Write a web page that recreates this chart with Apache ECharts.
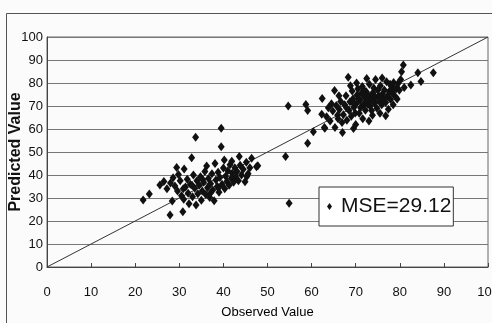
<!DOCTYPE html>
<html>
<head>
<meta charset="utf-8">
<script src="https://cdn.jsdelivr.net/npm/echarts@6/dist/echarts.min.js"></script>
<style>
html,body{margin:0;padding:0;background:#fbfbfb;}
#chart{width:492px;height:323px;}
</style>
</head>
<body>
<div id="chart"></div>
<script>
// Observed vs predicted values
const clusterLow = [
  [21.8,29.1],[23.2,31.7],[25.6,35.7],[26.5,37.2],[27.2,34.0],[27.9,22.6],[28.4,28.7],[28.0,36.5],
  [28.6,38.8],[29.4,43.3],[29.0,35.2],[29.6,33.0],[29.8,40.2],[30.2,37.5],[30.5,31.0],[30.8,24.0],
  [31.1,42.6],[31.0,29.5],[31.4,34.8],[31.8,38.2],[32.0,32.1],[32.2,27.5],[32.5,36.0],[32.8,47.5],
  [33.0,30.5],[33.2,40.0],[33.5,34.2],[33.7,56.4],[33.8,27.0],[34.0,37.5],[34.2,31.8],[34.5,35.5],
  [34.8,39.2],[35.0,29.0],[35.2,33.0],[35.5,36.8],[35.8,41.5],[36.0,31.5],[36.2,43.9],[36.4,34.5],
  [36.6,38.5],[36.9,30.2],[37.1,36.2],[37.4,40.5],[37.6,33.5],[37.9,28.8],[38.1,45.0],[38.3,37.8],
  [38.6,35.0],[38.8,41.2],[39.0,32.5],[39.2,38.9],[39.5,60.3],[39.5,52.3],[39.7,36.0],[40.0,43.0],
  [40.2,46.5],[40.3,34.0],[40.5,39.5],[40.8,37.2],[41.0,41.8],[41.3,35.5],[41.5,44.5],[41.8,38.6],
  [42.0,40.8],[42.3,36.8],[42.6,43.2],[42.8,39.0],[43.1,41.5],[43.6,48.0],[43.4,37.5],[43.8,44.2],
  [44.1,40.0],[44.5,42.5],[44.9,37.1],[45.2,45.5],[45.3,39.3],[45.6,40.5],[46.0,43.2],[46.4,47.3],
  [47.5,43.6],[47.8,44.0],[35.3,38.0],[32.9,35.5],[30.9,34.0],[37.0,32.0],[38.9,34.5],[41.9,46.0]
];
const clusterHigh = [
  [54.1,48.0],[54.9,27.7],[54.7,70.0],[58.7,70.7],[59.1,68.0],[59.1,53.8],[60.4,58.8],[62.3,66.4],
  [62.4,73.3],[62.9,60.6],[63.4,65.3],[63.0,60.3],[64.2,63.5],[64.8,67.8],[65.2,76.7],[65.3,60.6],
  [65.6,70.2],[66.0,64.5],[66.3,68.5],[66.6,72.0],[66.9,62.8],[67.2,66.2],[67.5,70.5],[67.8,74.5],
  [68.0,63.8],[68.3,82.5],[68.5,68.0],[68.7,71.8],[69.0,65.5],[69.2,76.5],[69.4,73.2],[69.6,69.5],
  [69.9,67.0],[70.1,71.0],[70.3,74.8],[70.5,77.5],[70.8,66.8],[71.0,72.5],[71.1,69.2],[71.3,75.5],
  [71.5,78.5],[71.8,70.6],[72.0,73.8],[72.2,68.2],[72.4,76.2],[72.6,71.8],[72.9,74.6],[73.1,79.5],
  [73.3,70.0],[73.5,72.8],[73.8,66.0],[73.9,75.8],[74.1,77.8],[74.3,71.2],[74.5,73.5],[74.8,69.0],
  [75.0,76.8],[75.2,74.5],[75.4,72.0],[75.6,78.8],[75.9,70.5],[76.1,75.2],[76.3,73.0],[76.5,77.0],
  [76.8,71.5],[77.0,80.5],[77.2,74.2],[77.4,68.6],[77.6,76.2],[77.9,72.8],[78.1,78.5],[78.3,75.5],
  [78.6,80.2],[78.8,77.2],[79.0,74.0],[79.4,73.0],[79.6,79.8],[79.9,76.8],[80.4,84.9],[80.8,87.8],
  [80.2,81.5],[81.0,78.0],[82.5,79.1],[84.1,84.5],[84.8,80.6],[87.6,84.5],[70.0,62.0],[71.6,64.5],
  [73.0,63.5],[67.0,58.5],[69.5,60.2],[75.5,66.8],[76.8,65.8],[72.5,82.0],[74.5,81.5],[70.2,80.0],
  [68.8,78.8],[66.2,74.5],[64.5,71.0],[63.8,69.2],[76.0,82.2],[78.5,70.5],[73.6,68.0],[71.9,77.0],
  [74.0,74.8],[75.8,73.8],[77.8,79.5],[79.2,77.5],[65.9,66.0],[67.9,69.2],[69.3,71.5],[70.7,73.0],
  [72.8,70.6]
];
const identityLine = [[0,0],[100,100]];
const seriesName = 'MSE=29.12';
const xTitle = 'Observed Value';
const yTitle = 'Predicted Value';
const axisMin = 0, axisMax = 100, axisStep = 10;

const font = "'Liberation Sans', Arial, sans-serif";
const chart = echarts.init(document.getElementById('chart'), null, {renderer: 'canvas'});
chart.setOption({
  backgroundColor: '#fbfbfb',
  animation: false,
  graphic: [{
    type: 'rect', silent: true, z: -10,
    shape: {x: 6.5, y: 13.5, width: 600, height: 400},
    style: {fill: null, stroke: '#555', lineWidth: 1}
  }],
  grid: {left: 47, top: 37, right: 4, bottom: 56, outerBoundsMode: 'none', containLabel: false,
         show: true, borderColor: '#666', borderWidth: 1, backgroundColor: 'transparent'},
  xAxis: {
    type: 'value', min: axisMin, max: axisMax, interval: axisStep,
    name: xTitle, nameLocation: 'middle', nameGap: 39, nameMoveOverlap: false,
    nameTextStyle: {fontFamily: font, fontSize: 13, color: '#000'},
    axisLine: {show: true, lineStyle: {color: '#444', width: 1}},
    axisTick: {show: true, inside: true, length: 4, lineStyle: {color: '#444'}},
    axisLabel: {fontFamily: font, fontSize: 13, color: '#111', margin: 19},
    splitLine: {show: false}
  },
  yAxis: {
    type: 'value', min: axisMin, max: axisMax, interval: axisStep,
    name: yTitle, nameLocation: 'middle', nameGap: 23, nameMoveOverlap: false,
    nameTextStyle: {fontFamily: font, fontSize: 16, fontWeight: 'bold', color: '#111'},
    axisLine: {show: true, lineStyle: {color: '#444', width: 1}},
    axisTick: {show: false},
    axisLabel: {fontFamily: font, fontSize: 13, color: '#111', margin: 4},
    splitLine: {show: true, lineStyle: {color: '#777', width: 1}}
  },
  legend: {
    data: [seriesName],
    left: 319, top: 187,
    padding: [9, 2, 9, 8],
    backgroundColor: '#fff',
    borderColor: '#333', borderWidth: 1,
    itemWidth: 5, itemHeight: 7,
    textStyle: {fontFamily: font, fontSize: 21, color: '#111', padding: [0, 0, 0, 4]}
  },
  series: [
    {
      name: 'identity', type: 'line', data: identityLine, showSymbol: false, symbol: 'none',
      lineStyle: {color: '#333', width: 1}, z: 1, silent: true
    },
    {
      name: seriesName, type: 'scatter', data: clusterLow.concat(clusterHigh),
      symbol: 'diamond', symbolSize: [7, 9],
      itemStyle: {color: '#111', opacity: 1}, z: 3
    }
  ]
});
</script>
</body>
</html>
